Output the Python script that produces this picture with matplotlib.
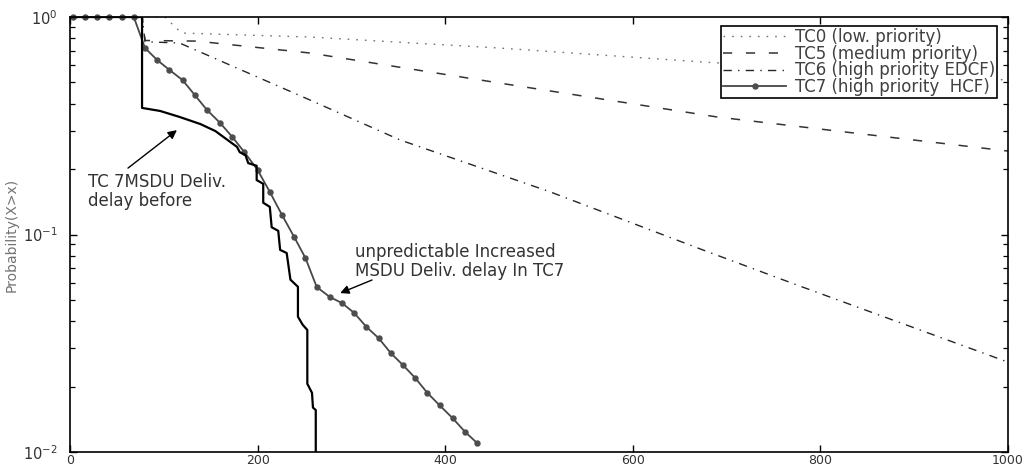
import matplotlib
matplotlib.use("Agg")
import matplotlib.pyplot as plt

# delay distributions per traffic class (x: delay, y: Pr(X > x))
tc0_x = [0, 101, 119, 256, 458, 675, 1000]
tc0_y = [1.0, 1.0, 0.844, 0.809, 0.72, 0.621, 0.513]

tc5_x = [0, 77, 80, 135, 256, 458, 690, 1000]
tc5_y = [1.0, 1.0, 0.78, 0.775, 0.683, 0.497, 0.347, 0.242]

tc6_x = [0, 77, 80, 117, 256, 352, 512, 672, 775, 1000]
tc6_y = [1.0, 1.0, 0.77, 0.759, 0.415, 0.272, 0.157, 0.0858, 0.0586, 0.0259]

tc7_x = [3, 16, 29, 42, 55, 68, 80, 93, 106, 120, 133, 146, 160, 173, 186,
         200, 213, 226, 239, 251, 263, 277, 290, 303, 316, 329, 342, 355,
         368, 381, 394, 408, 421, 434]
tc7_y = [1.0, 1.0, 1.0, 1.0, 1.0, 1.0, 0.72, 0.634, 0.571, 0.513, 0.438,
         0.374, 0.326, 0.281, 0.239, 0.198, 0.157, 0.123, 0.0974, 0.078,
         0.0574, 0.0516, 0.0484, 0.0436, 0.0376, 0.0334, 0.0285, 0.0251,
         0.0219, 0.0187, 0.0164, 0.0143, 0.0124, 0.0110]

# TC7 delay before (stepped empirical curve)
before_x = [0, 76.8, 76.8, 96, 117, 139, 155, 168, 178, 181, 187, 190, 199,
            199, 206, 206, 213, 215, 222, 224, 231, 235, 243, 243, 248, 253,
            253, 258, 259, 262, 262]
before_y = [1.0, 1.0, 0.382, 0.370, 0.347, 0.322, 0.299, 0.272, 0.253,
            0.239, 0.232, 0.213, 0.207, 0.178, 0.171, 0.140, 0.134, 0.108,
            0.104, 0.085, 0.0822, 0.062, 0.0575, 0.0419, 0.0385, 0.0364,
            0.0206, 0.0187, 0.016, 0.0156, 0.0100]

legend_labels = ["TC0 (low. priority)", "TC5 (medium priority)",
                 "TC6 (high priority EDCF)", "TC7 (high priority  HCF)"]

fig = plt.figure(figsize=(10.31, 4.69), dpi=100)
ax = fig.add_axes([0.0679, 0.0362, 0.9098, 0.9275])

ax.plot(tc0_x, tc0_y, color="0.45", lw=1.0, dashes=(1.2, 5.0), label=legend_labels[0])
ax.plot(tc5_x, tc5_y, color="0.2", lw=1.1, dashes=(6, 9), label=legend_labels[1])
ax.plot(tc6_x, tc6_y, color="0.15", lw=1.0, dashes=(6, 4.5, 1, 4.5), label=legend_labels[2])
ax.plot(tc7_x, tc7_y, color="0.28", lw=1.3, marker="o", markersize=3.6,
        markerfacecolor="0.3", markeredgecolor="0.3", clip_on=False,
        label=legend_labels[3])
ax.plot(before_x, before_y, color="black", lw=1.6)

ax.set_yscale("log")
ax.set_xlim(0, 1000)
ax.set_ylim(0.01, 1)
ax.set_xticks([0, 200, 400, 600, 800, 1000])
ax.tick_params(which="both", direction="in", top=True, right=True,
               labelsize=10.5, labelcolor="0.2")
ax.tick_params(which="major", length=5, width=1.0)
ax.tick_params(which="minor", length=3.5, width=0.9)
ax.tick_params(axis="y", which="major", pad=9)
ax.tick_params(axis="x", which="major", pad=1.5, labelsize=9)
for s in ax.spines.values():
    s.set_linewidth(1.2)

leg = ax.legend(loc="upper right", bbox_to_anchor=(0.9883, 0.9793),
                borderaxespad=0, fontsize=12, handlelength=3.8,
                handletextpad=0.5, labelspacing=-0.08, borderpad=0.12,
                fancybox=False, framealpha=1, edgecolor="black")
leg.get_frame().set_linewidth(1.2)
for t in leg.get_texts():
    t.set_color("0.25")

# annotations
ax.annotate("", xy=(114, 0.302), xytext=(61.8, 0.202),
            arrowprops=dict(arrowstyle="-|>", color="black", lw=1.0,
                            mutation_scale=13, shrinkA=0, shrinkB=0))
ax.text(19, 0.192, "TC 7MSDU Deliv.\ndelay before", fontsize=12,
        color="0.2", ha="left", va="top", linespacing=1.05)

ax.annotate("", xy=(288, 0.0538), xytext=(322, 0.0618),
            arrowprops=dict(arrowstyle="-|>", color="black", lw=1.0,
                            mutation_scale=13, shrinkA=0, shrinkB=0))
ax.text(304, 0.0915, "unpredictable Increased\nMSDU Deliv. delay In TC7",
        fontsize=12, color="0.2", ha="left", va="top", linespacing=1.05)

fig.text(12 / 1031, 0.5, "Probability(X>x)", rotation=90, fontsize=10,
         color="0.45", ha="center", va="center")

fig.savefig("out.png", dpi=100)
